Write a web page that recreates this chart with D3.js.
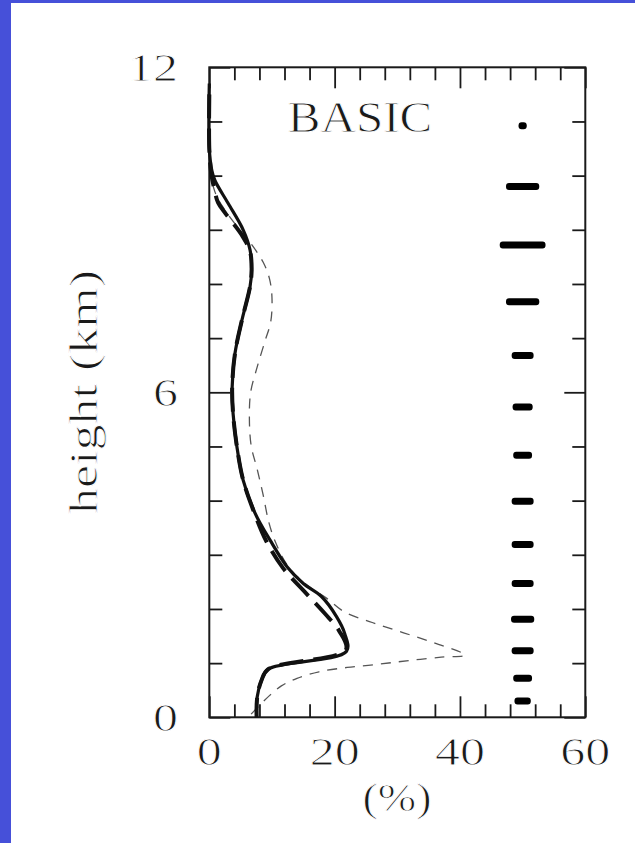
<!DOCTYPE html>
<html>
<head>
<meta charset="utf-8">
<script src="https://cdn.jsdelivr.net/npm/d3@7"></script>
<style>
  html, body { margin: 0; padding: 0; background: #fff; }
  svg { display: block; }
  .lbl { font-family: "Liberation Serif", "Times New Roman", serif; fill: #1a1a1a; stroke: #fff; stroke-width: 0.9; }
</style>
</head>
<body>
<svg id="chart" width="635" height="843"></svg>
<script>
// ========= data (percent, km) =========
const xTickMajor = [0, 20, 40, 60];
const xTickMinor = d3.range(0, 61, 4);
const yTickMajor = [0, 6, 12];
const yTickMinor = d3.range(0, 13, 1);

const panelTitle = "BASIC";
const xTitle = "(%)";
const yTitle = "height (km)";

// thick solid profile
const solidCurve = [
    [0, 11.7], [0, 10.5], [0.4, 10.1], [0.9, 9.91], [3.0, 9.49], [5.4, 9.0],
    [6.5, 8.63], [6.75, 8.26], [6.5, 7.95], [5.2, 7.33], [4.1, 6.72], [3.65, 6.1],
    [3.8, 5.6], [4.4, 5.0], [5.4, 4.38], [7.3, 3.77], [9.7, 3.27], [12.4, 2.78],
    [15.0, 2.47], [17.9, 2.23], [20.3, 1.86], [21.6, 1.55], [21.9, 1.22],
    [9.4, 0.89], [8.35, 0.69], [7.65, 0.38], [7.55, 0]
];

// thick long-dashed profile
const longDashCurve = [
    [0, 11.5], [0, 10.5], [0.3, 10.05], [0.8, 9.75], [1.4, 9.5], [2.6, 9.3],
    [5.2, 8.9], [6.5, 8.6], [6.75, 8.26], [6.5, 7.95], [5.2, 7.33], [4.1, 6.72],
    [3.65, 6.1], [3.8, 5.6], [4.4, 5.0], [5.4, 4.38], [7.2, 3.77], [9.1, 3.25],
    [11.8, 2.75], [15.2, 2.32], [18.4, 1.92], [20.7, 1.6], [21.8, 1.25],
    [9.4, 0.89], [8.35, 0.69], [7.65, 0.38], [7.55, 0]
];

// thin grey dashed profile
const thinDashCurve = [
    [0.1, 10.5], [0.3, 10.0], [0.9, 9.7], [2.0, 9.45], [4.5, 9.05], [6.8, 8.72],
    [8.6, 8.4], [9.6, 8.1], [10.0, 7.75], [9.8, 7.3], [8.9, 6.95], [7.6, 6.45],
    [6.6, 6.0], [6.4, 5.5], [6.7, 5.0], [7.6, 4.6], [8.6, 4.1], [9.5, 3.6],
    [10.5, 3.25], [12.5, 2.8], [15.5, 2.45], [18.7, 2.2], [21.5, 1.95], [26, 1.75],
    [31, 1.56], [36, 1.37], [40.8, 1.15], [37, 1.11], [32, 1.05], [27, 0.98],
    [22, 0.92], [17.5, 0.84], [14, 0.72], [11.5, 0.58], [9.6, 0.4], [8.1, 0.23],
    [6.2, 0]
];

// bars on the right: centre, height and full width (%)
const barCenter = 50;
const barHeights = [10.92, 9.80, 8.72, 7.67, 6.68, 5.73, 4.84, 3.99, 3.19, 2.47, 1.81, 1.23, 0.72, 0.30];
const barWidths = [1.3, 5.3, 7.3, 5.3, 3.5, 3.2, 3.0, 3.5, 3.5, 3.5, 3.7, 3.5, 3.0, 2.6];

// ========= svg =========
const svg = d3.select("#chart");
const W = +svg.attr("width");
const H = +svg.attr("height");

// blue slide border
svg.append("rect").attr("x", 0).attr("y", 0).attr("width", 11).attr("height", H).attr("fill", "#4650d9");
svg.append("rect").attr("x", 0).attr("y", 0).attr("width", W).attr("height", 3).attr("fill", "#4650d9");

const plotL = 209.3, plotR = 585.3, plotT = 67.3, plotB = 717.3;

const x = d3.scaleLinear().domain([0, 60]).range([plotL, plotR]);
const y = d3.scaleLinear().domain([0, 12]).range([plotB, plotT]);

const ink = "#1a1a1a";
const minorLen = 13, majorLen = 21;

function styleAxis(sel) {
    sel.select(".domain").remove();
    sel.selectAll("text").remove();
    sel.selectAll("line").attr("stroke", ink).attr("stroke-width", 1.8);
}

function ticksOf(vals, major) {
    return vals.filter(v => !major.includes(v));
}

// bottom / top
[[d3.axisBottom, plotB], [d3.axisTop, plotT]].forEach(([fn, pos]) => {
    svg.append("g").attr("transform", `translate(0,${pos})`)
        .call(fn(x).tickValues(ticksOf(xTickMinor, xTickMajor)).tickSize(-minorLen))
        .call(styleAxis);
    svg.append("g").attr("transform", `translate(0,${pos})`)
        .call(fn(x).tickValues(xTickMajor).tickSize(-majorLen))
        .call(styleAxis);
});

// left / right
[[d3.axisLeft, plotL], [d3.axisRight, plotR]].forEach(([fn, pos]) => {
    svg.append("g").attr("transform", `translate(${pos},0)`)
        .call(fn(y).tickValues(ticksOf(yTickMinor, yTickMajor)).tickSize(-minorLen))
        .call(styleAxis);
    svg.append("g").attr("transform", `translate(${pos},0)`)
        .call(fn(y).tickValues(yTickMajor).tickSize(-majorLen))
        .call(styleAxis);
});

// frame
svg.append("rect")
    .attr("x", plotL).attr("y", plotT)
    .attr("width", plotR - plotL).attr("height", plotB - plotT)
    .attr("fill", "none").attr("stroke", ink).attr("stroke-width", 2);

// ========= labels =========
const sx = 1.25;

svg.selectAll(".xlab")
    .data(xTickMajor)
    .join("text")
    .attr("class", "lbl xlab")
    .attr("transform", d => `translate(${x(d)},765) scale(${sx},1)`)
    .attr("text-anchor", "middle")
    .attr("font-size", 40)
    .text(d => d);

svg.selectAll(".ylab")
    .data(yTickMajor)
    .join("text")
    .attr("class", "lbl ylab")
    .attr("transform", d => `translate(178,${y(d) + 13.5}) scale(${sx},1)`)
    .attr("text-anchor", "end")
    .attr("font-size", 40)
    .text(d => d);

svg.append("text")
    .attr("class", "lbl")
    .attr("transform", `translate(397,811) scale(1.15,1)`)
    .attr("text-anchor", "middle")
    .attr("font-size", 40)
    .text(xTitle);

svg.append("text")
    .attr("class", "lbl")
    .attr("transform", `translate(97,392) rotate(-90) scale(1.3,1)`)
    .attr("text-anchor", "middle")
    .attr("font-size", 40)
    .text(yTitle);

svg.append("text")
    .attr("class", "lbl")
    .attr("transform", `translate(360,132) scale(1.09,1)`)
    .attr("text-anchor", "middle")
    .attr("font-size", 45)
    .text(panelTitle);

// ========= curves =========
const line = d3.line()
    .x(d => x(d[0]))
    .y(d => y(d[1]))
    .curve(d3.curveCatmullRom.alpha(0.5));

svg.append("path")
    .datum(thinDashCurve)
    .attr("d", line)
    .attr("fill", "none")
    .attr("stroke", "#555")
    .attr("stroke-width", 1.3)
    .attr("stroke-dasharray", "10,8");

svg.append("path")
    .datum(longDashCurve)
    .attr("d", line)
    .attr("fill", "none")
    .attr("stroke", "#111")
    .attr("stroke-width", 4)
    .attr("stroke-dasharray", "24,10");

svg.append("path")
    .datum(solidCurve)
    .attr("d", line)
    .attr("fill", "none")
    .attr("stroke", "#111")
    .attr("stroke-width", 3.2)
    .attr("stroke-linejoin", "round");

// ========= bars =========
const bars = barHeights.map((h, i) => ({ h: h, w: barWidths[i] }));
const barThick = 7;

svg.selectAll(".bar")
    .data(bars)
    .join("rect")
    .attr("class", "bar")
    .attr("x", d => x(barCenter - d.w / 2))
    .attr("y", d => y(d.h) - barThick / 2)
    .attr("width", d => x(barCenter + d.w / 2) - x(barCenter - d.w / 2))
    .attr("height", barThick)
    .attr("rx", 3)
    .attr("fill", "#000");
</script>
</body>
</html>
